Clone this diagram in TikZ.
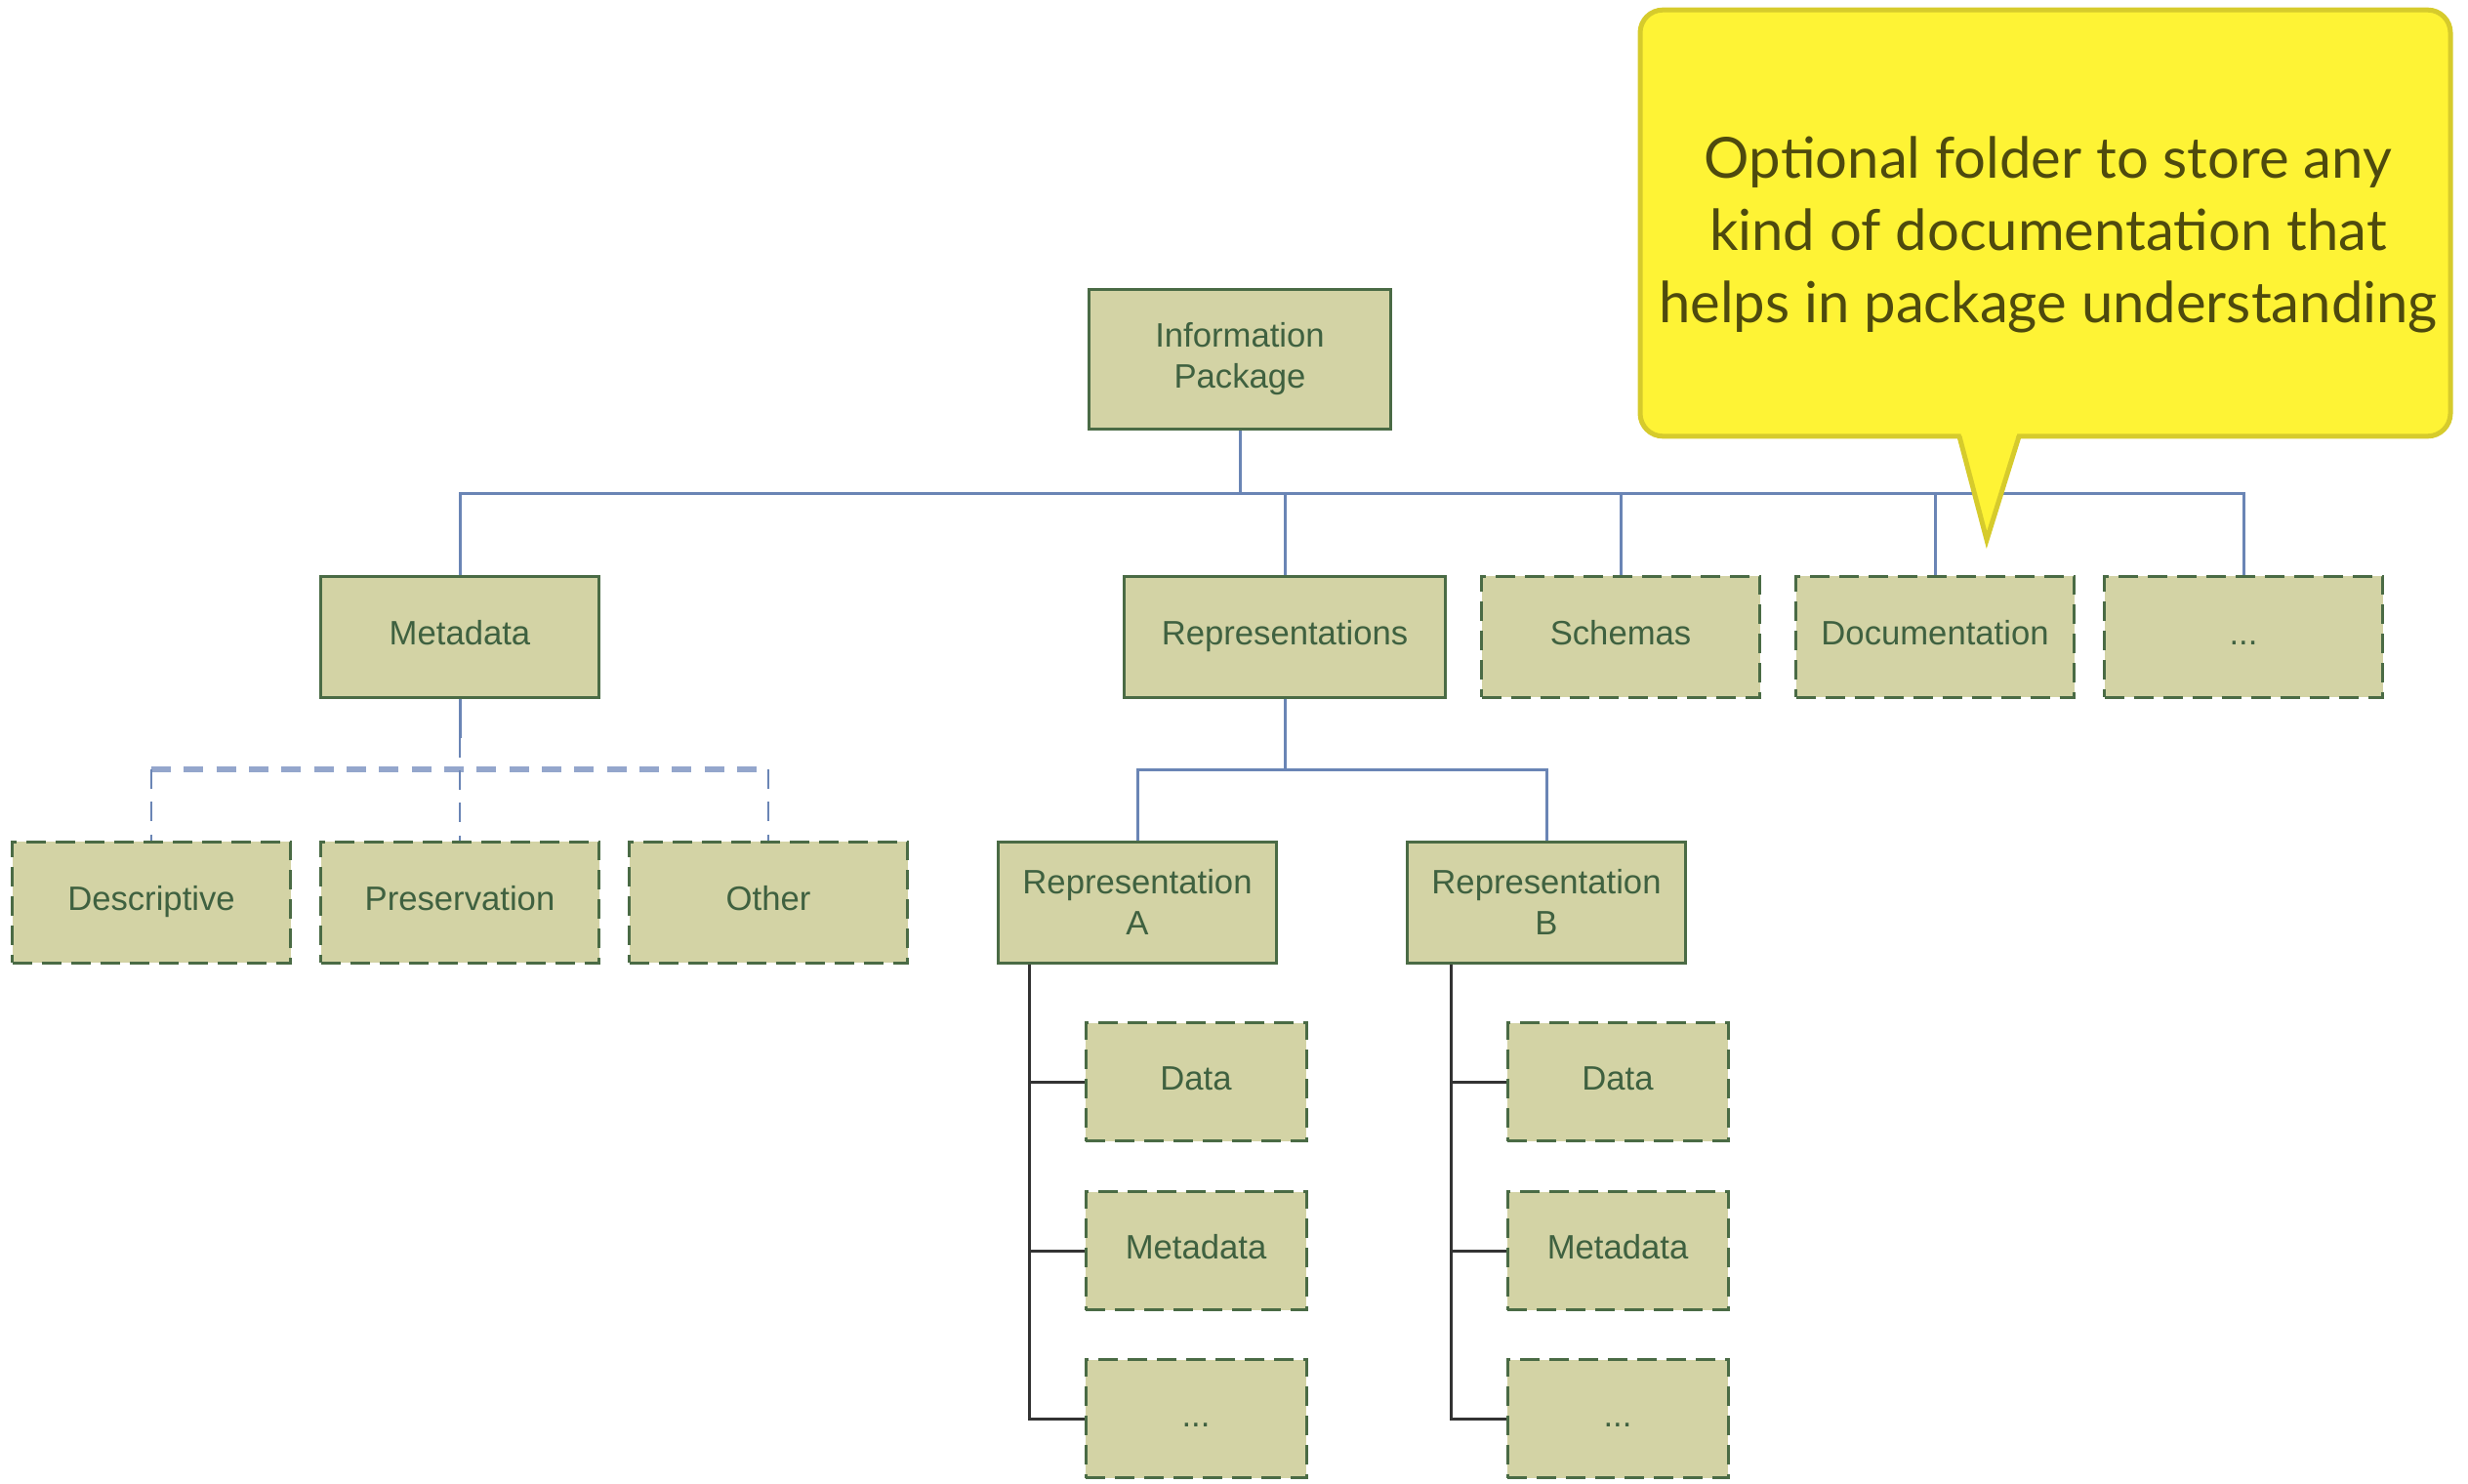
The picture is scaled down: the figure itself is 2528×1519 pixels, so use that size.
\documentclass[tikz,border=0pt]{standalone}
\usepackage{fontspec}
\setmainfont{Liberation Sans}
\newfontfamily\notefont{Lato}
\definecolor{boxfill}{HTML}{D3D3A5}
\definecolor{boxline}{HTML}{4A6B45}
\definecolor{boxtext}{HTML}{3F6140}
\definecolor{busblue}{HTML}{6A85B5}
\definecolor{buslight}{HTML}{94A6CC}
\definecolor{treeline}{HTML}{333333}
\definecolor{notefill}{HTML}{FEF335}
\definecolor{noteedge}{HTML}{D6CB2C}
\definecolor{notetext}{HTML}{4E4A0E}
\begin{document}
\begin{tikzpicture}[x=0.3pt,y=-0.3pt,
  box/.style={draw=boxline, fill=boxfill, line width=0.9pt, inner sep=0pt,
    minimum width=85.5pt, minimum height=37.2pt, align=center, text=boxtext,
    font=\fontsize{10.4}{12.6}\selectfont},
  folder/.style={box, text height=0.72em, text depth=0.21em},
  twoline/.style={box},
  optfolder/.style={folder, dash pattern=on 6pt off 3pt},
  subfolder/.style={optfolder, minimum width=67.8pt, minimum height=36.3pt},
  bus/.style={draw=busblue, line width=0.9pt},
  optbus/.style={draw=buslight, line width=1.6pt, dash pattern=on 6pt off 4pt},
  optstem/.style={draw=busblue, line width=0.7pt, dash pattern=on 6pt off 4pt},
  tree/.style={draw=treeline, line width=0.9pt},
  callout/.style={draw=noteedge, fill=notefill, line width=1.5pt, rounded corners=7pt,
    minimum width=249pt, minimum height=131pt, align=center, text=notetext,
    font=\notefont\fontsize{17.4}{22.2}\selectfont}
]
\path[use as bounding box] (0,0) rectangle (2528,1519);

% bus heights
\coordinate (busY) at (0,505);
\coordinate (subY) at (0,788);
\coordinate (spineA) at (1054,0);
\coordinate (spineB) at (1486,0);

% root
\node[twoline, minimum width=92.7pt, minimum height=42.9pt] (info) at (1270,368) {Information\\Package};

% first level
\node[folder] (meta) at (471,652) {Metadata};
\node[folder, minimum width=98.7pt] (reps) at (1316,652) {Representations};
\node[optfolder] (schemas) at (1660,652) {Schemas};
\node[optfolder] (docs) at (1982,652) {Documentation};
\node[optfolder] (more) at (2298,652) {...};

% metadata kinds
\node[optfolder] (desc) at (155,924) {Descriptive};
\node[optfolder] (pres) at (471,924) {Preservation};
\node[optfolder] (other) at (787,924) {Other};

% representations
\node[twoline] (repA) at (1165,924) {Representation\\A};
\node[twoline] (repB) at (1584,924) {Representation\\B};

\node[subfolder] (aData) at (1225,1108) {Data};
\node[subfolder] (aMeta) at (1225,1281) {Metadata};
\node[subfolder] (aMore) at (1225,1453) {...};
\node[subfolder] (bData) at (1657,1108) {Data};
\node[subfolder] (bMeta) at (1657,1281) {Metadata};
\node[subfolder] (bMore) at (1657,1453) {...};

% connectors, root to first level
\draw[bus] (info.south) -- (info.south |- busY);
\draw[bus] (meta.north) |- (more.north |- busY) -- (more.north);
\foreach \n in {reps, schemas, docs} \draw[bus] (\n.north) -- (\n.north |- busY);

% metadata to its optional kinds
\coordinate (mstem) at ([yshift=-12pt]meta.south);
\draw[optbus] (desc.north |- subY) -- (other.north |- subY);
\draw[bus] (meta.south) -- (mstem);
\draw[optstem] (mstem) -- (pres.north);
\draw[optstem] (desc.north |- subY) -- (desc.north);
\draw[optstem] (other.north |- subY) -- (other.north);

% representations to A and B
\draw[bus] (reps.south) -- (reps.south |- subY);
\draw[bus] (repA.north) |- (repB.north |- subY) -- (repB.north);

% representation contents
\draw[tree] (repA.south -| spineA) |- (aMore.west);
\draw[tree] (spineA |- aData.west) -- (aData.west);
\draw[tree] (spineA |- aMeta.west) -- (aMeta.west);
\draw[tree] (repB.south -| spineB) |- (bMore.west);
\draw[tree] (spineB |- bData.west) -- (bData.west);
\draw[tree] (spineB |- bMeta.west) -- (bMeta.west);

% callout
\node[callout] (note) at (2095,228.5) {};
\node[text=notetext, align=center, font=\notefont\fontsize{17.4}{22.2}\selectfont] (notetxt) at (2098,240) {Optional folder to store any\\kind of documentation that\\helps in package understanding};
\coordinate (tipL) at (2007,447);
\coordinate (tipR) at (2068,447);
\coordinate (tip) at (2035,553);
\fill[notefill] (2007,438) -- (2068,438) -- (tip) -- cycle;
\draw[draw=noteedge, line width=1.5pt, line join=miter] (tipL) -- (tip) -- (tipR);
\end{tikzpicture}
\end{document}
